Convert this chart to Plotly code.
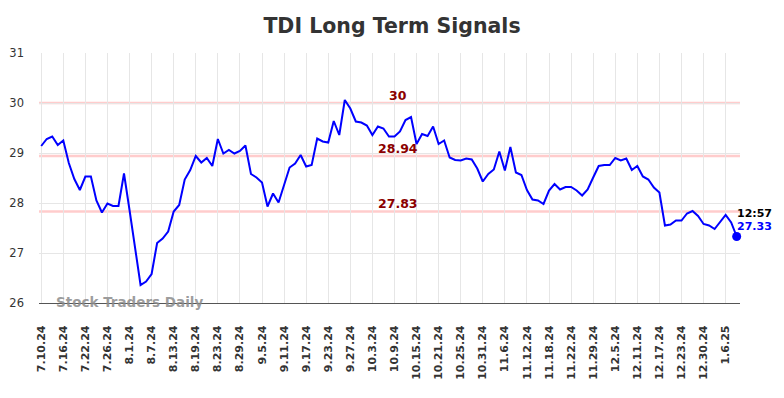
import plotly.graph_objects as go

title_text = "TDI Long Term Signals"

tick_labels = ["7.10.24", "7.16.24", "7.22.24", "7.26.24", "8.1.24", "8.7.24", "8.13.24",
               "8.19.24", "8.23.24", "8.29.24", "9.5.24", "9.11.24", "9.17.24", "9.23.24",
               "9.27.24", "10.3.24", "10.9.24", "10.15.24", "10.21.24", "10.25.24",
               "10.31.24", "11.6.24", "11.12.24", "11.18.24", "11.22.24", "11.29.24",
               "12.5.24", "12.11.24", "12.17.24", "12.23.24", "12.30.24", "1.6.25"]
tick_step = 4  # trading days between labels

prices = [
    29.14, 29.28, 29.33, 29.16, 29.25, 28.80, 28.48, 28.26, 28.53, 28.53,
    28.05, 27.81, 27.99, 27.94, 27.94, 28.59, 27.86, 27.14, 26.36, 26.43,
    26.58, 27.20, 27.29, 27.43, 27.83, 27.96, 28.47, 28.66, 28.94, 28.81,
    28.90, 28.74, 29.28, 28.99, 29.06, 28.99, 29.04, 29.15, 28.58, 28.51,
    28.41, 27.93, 28.19, 28.01, 28.36, 28.71, 28.79, 28.96, 28.73, 28.76,
    29.29, 29.23, 29.21, 29.64, 29.36, 30.06, 29.89, 29.63, 29.61, 29.55,
    29.36, 29.53, 29.49, 29.33, 29.33, 29.43, 29.66, 29.72, 29.18, 29.38,
    29.34, 29.53, 29.18, 29.25, 28.91, 28.86, 28.85, 28.89, 28.87, 28.69,
    28.43, 28.58, 28.67, 29.03, 28.65, 29.12, 28.61, 28.56, 28.26, 28.07,
    28.05, 27.98, 28.25, 28.38, 28.27, 28.32, 28.32, 28.25, 28.15, 28.27,
    28.51, 28.74, 28.76, 28.76, 28.90, 28.85, 28.89, 28.66, 28.74, 28.53,
    28.47, 28.31, 28.21, 27.55, 27.57, 27.65, 27.65, 27.79, 27.84, 27.74,
    27.58, 27.55, 27.48, 27.61, 27.76, 27.61, 27.33,
]

signal_levels = [30, 28.94, 27.83]
signal_labels = ["30", "28.94", "27.83"]
last_time = "12:57"
last_value = 27.33
watermark = "Stock Traders Daily"

x_idx = list(range(len(prices)))
tick_vals = [i * tick_step for i in range(len(tick_labels))]

# page body has an 8px margin; size the figure to fit the 784x398 window
PAGE = 8
W, H = 784 - PAGE, 398 - PAGE
ML, MR, MT, MB = 39 - PAGE, 44, 53 - PAGE, 95
plot_w = W - ML - MR

fig = go.Figure()

fig.add_trace(go.Scatter(
    x=x_idx, y=prices, mode="lines",
    line=dict(color="#0000ff", width=2),
    hoverinfo="skip", showlegend=False, cliponaxis=False,
))
fig.add_trace(go.Scatter(
    x=[x_idx[-1]], y=[prices[-1]], mode="markers",
    marker=dict(color="#0000ff", size=9),
    hoverinfo="skip", showlegend=False, cliponaxis=False,
))

for lvl in signal_levels:
    fig.add_shape(type="line", xref="paper", x0=0, x1=1, yref="y", y0=lvl, y1=lvl,
                  line=dict(color="#ffcccc", width=2.5), layer="below")

label_x = 64.7
for lvl, txt in zip(signal_levels, signal_labels):
    fig.add_annotation(x=label_x, y=lvl, xref="x", yref="y", text=txt,
                       showarrow=False, yanchor="middle", yshift=8,
                       font=dict(family="DejaVu Sans", size=12.5, color="#8b0000", weight="bold"))

fig.add_annotation(x=x_idx[-1], y=last_value, xref="x", yref="y", text=last_time,
                   showarrow=False, xanchor="left", yanchor="middle", yshift=23, xshift=-2,
                   font=dict(family="DejaVu Sans", size=11, color="#000000", weight="bold"))
fig.add_annotation(x=x_idx[-1], y=last_value, xref="x", yref="y", text=f"{last_value:.2f}",
                   showarrow=False, xanchor="left", yanchor="middle", yshift=10, xshift=-2,
                   font=dict(family="DejaVu Sans", size=11, color="#0000ff", weight="bold"))

fig.add_annotation(x=(54 - 39) / plot_w, y=26, xref="paper", yref="y",
                   text=watermark, showarrow=False,
                   xanchor="left", yanchor="middle", yshift=1,
                   font=dict(family="DejaVu Sans", size=13.5, color="rgba(140,140,140,0.85)", weight="bold"))

fig.update_layout(
    width=W, height=H,
    margin=dict(l=ML, r=MR, t=MT, b=MB, autoexpand=False),
    paper_bgcolor="white", plot_bgcolor="white",
    title=dict(text=title_text, x=(392 - PAGE) / W, xanchor="center",
               y=1 - (26 - PAGE) / H, yanchor="middle",
               font=dict(family="DejaVu Sans", size=20.5, color="#333333", weight="bold")),
    font=dict(family="DejaVu Sans", color="#333333"),
)

fig.update_xaxes(
    range=[-0.4, 126.6], tickmode="array", tickvals=tick_vals, ticktext=tick_labels,
    tickangle=-90, showgrid=True, gridcolor="#e6e6e6", gridwidth=1,
    zeroline=False, showline=True, linecolor="#555555", linewidth=1.3,
    ticks="", ticklabelstandoff=17, automargin=False,
    tickfont=dict(family="DejaVu Sans", size=11, color="#333333", weight="bold"),
)
fig.update_yaxes(
    range=[26, 31], tickmode="array", tickvals=[26, 27, 28, 29, 30, 31],
    showgrid=True, gridcolor="#e6e6e6", gridwidth=1, zeroline=False,
    showline=False, ticks="", ticklabelstandoff=14, automargin=False,
    tickfont=dict(family="DejaVu Sans", size=11.5, color="#333333"),
)

fig.write_html("out.html")
